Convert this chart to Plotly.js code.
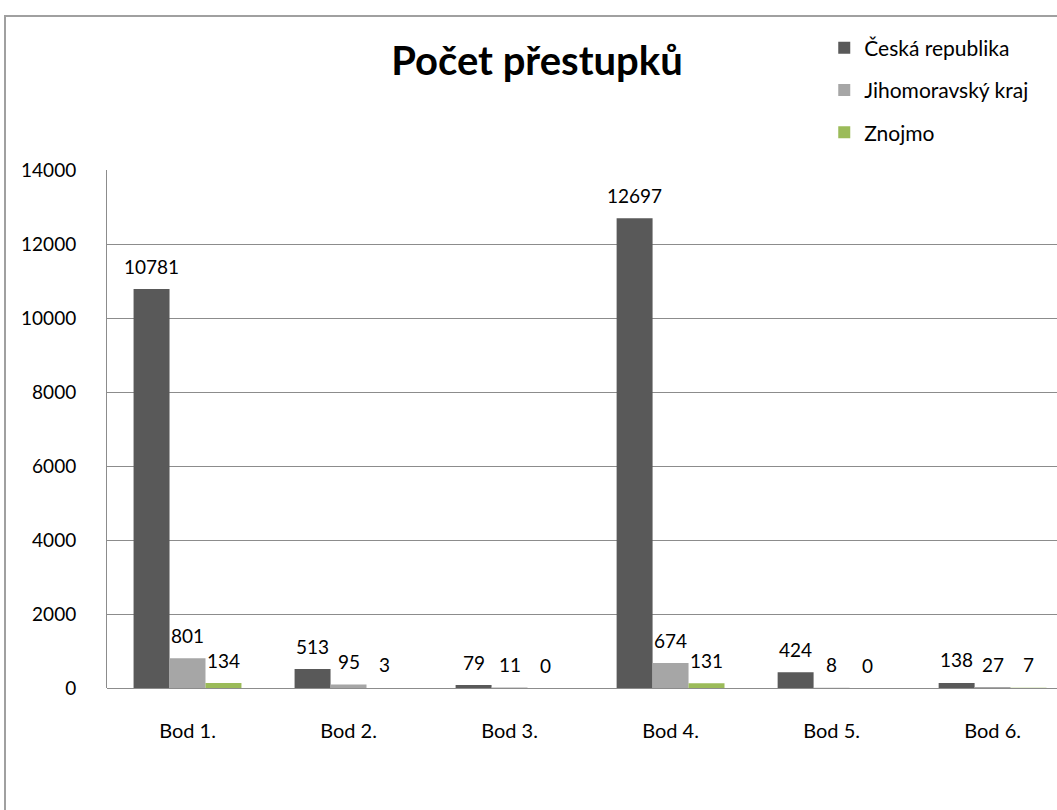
<!DOCTYPE html>
<html>
<head>
<meta charset="utf-8">
<script src="https://cdn.plot.ly/plotly-3.0.1.min.js"></script>
<style>
  html, body { margin: 0; padding: 0; background: #fff; }
  #chart { width: 1057px; height: 810px; position: absolute; left: 0; top: 0; }
  #frame { position: absolute; left: 4px; top: 15px; width: 1100px; height: 900px;
           border-left: 2px solid #a0a0a0; border-top: 2px solid #a0a0a0; pointer-events: none; }
</style>
</head>
<body>
<div id="chart"></div>
<div id="frame"></div>
<script>
const categories = ["Bod 1.", "Bod 2.", "Bod 3.", "Bod 4.", "Bod 5.", "Bod 6."];
const seriesNames = ["Česká republika", "Jihomoravský kraj", "Znojmo"];
const ceskaRepublika = [10781, 513, 79, 12697, 424, 138];
const jihomoravskyKraj = [801, 95, 11, 674, 8, 27];
const znojmo = [134, 3, 0, 131, 0, 7];
const yTicks = [0, 2000, 4000, 6000, 8000, 10000, 12000, 14000];

const colors = ["#595959", "#a6a6a6", "#9bbb59"];
const allSeries = [ceskaRepublika, jihomoravskyKraj, znojmo];
const FONT = "Lato, 'Open Sans', sans-serif";

const traces = allSeries.map((vals, s) => ({
  type: "bar",
  name: seriesNames[s],
  x: categories,
  y: vals,
  marker: { color: colors[s] },
  legendgroup: "g" + s,
  hoverinfo: "x+y+name"
}));

const bargap = 0.33;
const w = (1 - bargap) / 3;
const annotations = [];
allSeries.forEach((vals, s) => {
  vals.forEach((v, i) => {
    annotations.push({
      x: i + (s - 1) * w, y: v, xref: "x", yref: "y",
      text: String(v), showarrow: false, yshift: 23,
      font: { family: FONT, size: 19, color: "#000" }
    });
  });
});

const layout = {
  width: 1057, height: 810,
  margin: { l: 107, r: 0, t: 170, b: 122 },
  paper_bgcolor: "#fff", plot_bgcolor: "#fff",
  barmode: "group", bargap: bargap, bargroupgap: 0,
  title: { text: "<b>Počet přestupků</b>", x: 0.508, xanchor: "center", y: 0.925, yanchor: "middle",
           font: { family: FONT, size: 40, color: "#000" } },
  xaxis: {
    type: "category", range: [-0.5, 5.4], showgrid: false,
    showline: false, ticks: "", ticklabelstandoff: 29,
    tickfont: { family: FONT, size: 20, color: "#000" }, fixedrange: true
  },
  yaxis: {
    range: [0, 14000], tickvals: yTicks, ticktext: yTicks.map(String),
    showgrid: true, gridcolor: "#8c8c8c", gridwidth: 1,
    showline: true, linecolor: "#8c8c8c", linewidth: 1,
    zeroline: true, zerolinecolor: "#8c8c8c", zerolinewidth: 1,
    ticks: "", ticklabelstandoff: 26,
    tickfont: { family: FONT, size: 19, color: "#000" }, fixedrange: true
  },
  legend: {
    x: 0.755, y: 1.275, xanchor: "left", yanchor: "top",
    traceorder: "grouped", tracegroupgap: 12, itemwidth: 30,
    font: { family: FONT, size: 21, color: "#000" }, bgcolor: "rgba(0,0,0,0)"
  },
  annotations: annotations,
  showlegend: true
};

Plotly.newPlot("chart", traces, layout, { displayModeBar: false, staticPlot: true });
</script>
</body>
</html>
